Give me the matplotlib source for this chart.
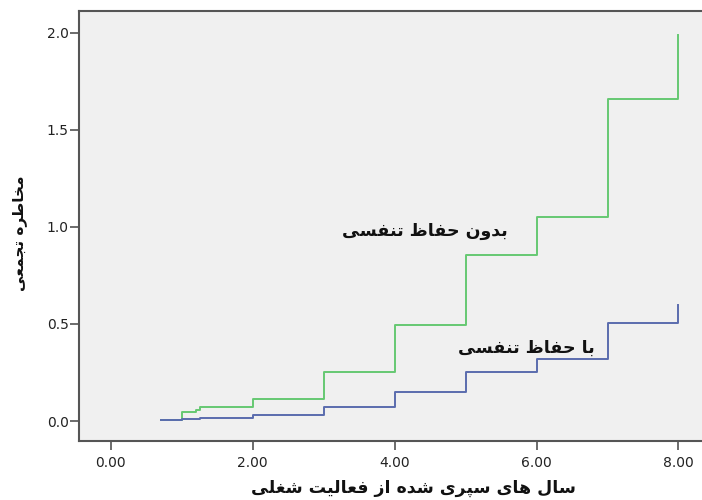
import matplotlib
matplotlib.use("Agg")
import matplotlib.pyplot as plt

# ---------------- data ----------------
green_x = [0.7, 1.0, 1.2, 1.25, 2.0, 3.0, 4.0, 5.0, 6.0, 7.0, 8.0]
green_y = [0.005, 0.046, 0.057, 0.072, 0.113, 0.253, 0.495, 0.855, 1.05, 1.66, 1.99]
blue_x = [0.7, 1.0, 1.25, 2.0, 3.0, 4.0, 5.0, 6.0, 7.0, 8.0]
blue_y = [0.003, 0.008, 0.017, 0.03, 0.074, 0.149, 0.254, 0.32, 0.505, 0.60]
xticks = [0, 2, 4, 6, 8]
xtick_labels = ["0.00", "2.00", "4.00", "6.00", "8.00"]
yticks = [0.0, 0.5, 1.0, 1.5, 2.0]
ytick_labels = ["0.0", "0.5", "1.0", "1.5", "2.0"]
label_green = "بدون حفاظ تنفسی"
label_blue = "با حفاظ تنفسی"
xlabel = "سال های سپری شده از فعالیت شغلی"
ylabel = "مخاطره تجمعی"

# ------------- minimal Persian shaping (visual order) -------------
FORMS = {
    'ا': ('\uFE8D', '\uFE8E', None, None),
    'ب': ('\uFE8F', '\uFE90', '\uFE91', '\uFE92'),
    'پ': ('\uFB56', '\uFB57', '\uFB58', '\uFB59'),
    'ت': ('\uFE95', '\uFE96', '\uFE97', '\uFE98'),
    'ج': ('\uFE9D', '\uFE9E', '\uFE9F', '\uFEA0'),
    'ح': ('\uFEA1', '\uFEA2', '\uFEA3', '\uFEA4'),
    'خ': ('\uFEA5', '\uFEA6', '\uFEA7', '\uFEA8'),
    'د': ('\uFEA9', '\uFEAA', None, None),
    'ر': ('\uFEAD', '\uFEAE', None, None),
    'ز': ('\uFEAF', '\uFEB0', None, None),
    'س': ('\uFEB1', '\uFEB2', '\uFEB3', '\uFEB4'),
    'ش': ('\uFEB5', '\uFEB6', '\uFEB7', '\uFEB8'),
    'ط': ('\uFEC1', '\uFEC2', '\uFEC3', '\uFEC4'),
    'ظ': ('\uFEC5', '\uFEC6', '\uFEC7', '\uFEC8'),
    'ع': ('\uFEC9', '\uFECA', '\uFECB', '\uFECC'),
    'غ': ('\uFECD', '\uFECE', '\uFECF', '\uFED0'),
    'ف': ('\uFED1', '\uFED2', '\uFED3', '\uFED4'),
    'ل': ('\uFEDD', '\uFEDE', '\uFEDF', '\uFEE0'),
    'م': ('\uFEE1', '\uFEE2', '\uFEE3', '\uFEE4'),
    'ن': ('\uFEE5', '\uFEE6', '\uFEE7', '\uFEE8'),
    'ه': ('\uFEE9', '\uFEEA', '\uFEEB', '\uFEEC'),
    'و': ('\uFEED', '\uFEEE', None, None),
    'ی': ('\uFEEF', '\uFEF0', '\uFEF3', '\uFEF4'),
}


def shape(text):
    out = []
    n = len(text)
    for i, ch in enumerate(text):
        if ch not in FORMS:
            out.append(ch)
            continue
        iso, fin, ini, med = FORMS[ch]
        prev = text[i - 1] if i > 0 else None
        nxt = text[i + 1] if i < n - 1 else None
        jp = prev in FORMS and FORMS[prev][2] is not None
        jn = ini is not None and nxt in FORMS
        if jp and jn:
            out.append(med)
        elif jp:
            out.append(fin)
        elif jn:
            out.append(ini)
        else:
            out.append(iso)
    return "".join(out)[::-1]


# ---------------- figure ----------------
fig = plt.figure(figsize=(7.02, 5.0), dpi=100)
ax = fig.add_axes([79 / 702, 1 - 441 / 500, 625 / 702, 430 / 500])
ax.set_facecolor("#f0f0f0")

ax.step(green_x, green_y, where="post", color="#66c872", lw=1.4)
ax.step(blue_x, blue_y, where="post", color="#5a6cae", lw=1.4)

ax.set_xlim(-0.45, 8.36)
ax.set_ylim(-0.103, 2.113)
ax.set_xticks(xticks)
ax.set_xticklabels(xtick_labels)
ax.set_yticks(yticks)
ax.set_yticklabels(ytick_labels)

ax.spines["right"].set_visible(False)
for side in ["left", "bottom", "top"]:
    ax.spines[side].set_color("#555555")
    ax.spines[side].set_linewidth(1.5)

ax.tick_params(axis="both", direction="out", length=6.5, width=1.1,
               color="#444444", labelsize=10, labelcolor="#222222")
ax.tick_params(axis="y", pad=1)
ax.tick_params(axis="x", pad=4)
for lab in ax.get_xticklabels() + ax.get_yticklabels():
    lab.set_family("DejaVu Sans")

afont = dict(family="DejaVu Sans", weight="bold", color="#111111")
ax.text(4.43, 0.98, shape(label_green), ha="center", va="center", fontsize=12.5, **afont)
ax.text(5.86, 0.376, shape(label_blue), ha="center", va="center", fontsize=12.5, **afont)

fig.text(413 / 702, 1 - 488 / 500, shape(xlabel), ha="center", va="center", fontsize=12.5, **afont)
fig.text(20 / 702, 1 - 233 / 500, shape(ylabel), ha="center", va="center", rotation=90,
         fontsize=11, **afont)

fig.savefig("out.png", dpi=100, facecolor="white")
